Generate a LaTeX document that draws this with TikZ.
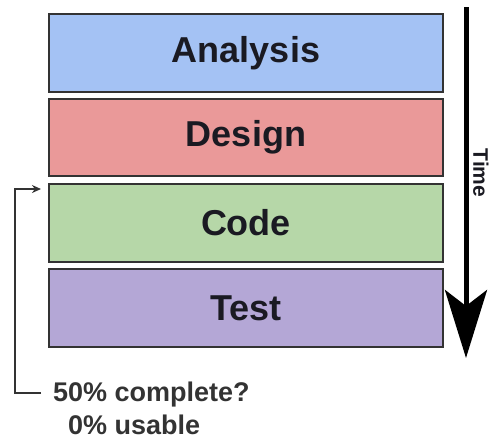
\documentclass[tikz,border=0pt]{standalone}
\usepackage{fontspec}
\setmainfont{Liberation Sans}
\usetikzlibrary{arrows.meta,calc}
\definecolor{cA}{HTML}{A4C2F4}
\definecolor{cD}{HTML}{EA9999}
\definecolor{cC}{HTML}{B6D7A8}
\definecolor{cT}{HTML}{B4A7D6}
\definecolor{bord}{HTML}{333333}
\definecolor{txt}{HTML}{1A1A22}
\tikzset{
  phase/.style={draw=bord, line width=2pt, minimum width=394pt, minimum height=78pt, inner sep=0pt,
    font=\fontsize{36}{40}\selectfont\bfseries, text=txt},
  note/.style={font=\fontsize{27}{30}\selectfont\bfseries, text=bord, inner sep=0pt, anchor=west},
}
\begin{document}
\begin{tikzpicture}[x=1pt,y=-1pt]
\useasboundingbox (0,0) rectangle (491,440);
\node[phase, fill=cA] (ana) at (246,53) {Analysis};
\node[phase, fill=cD, minimum height=77pt] (des) at (246,137.5) {Design};
\node[phase, fill=cC] (cod) at (246,223) {Code};
\node[phase, fill=cT] (tst) at (246,308) {Test};
\coordinate (ts) at (466,7);
\coordinate (te) at (466,358);
\draw[line width=5pt, -{Stealth[length=68pt,width=42pt,inset=16pt]}] (ts) -- (te);
\node[rotate=-90, font=\fontsize{21}{24}\selectfont\bfseries, text=txt, inner sep=0pt] (time) at (481,173) {Time};
\node[note] (n1) at (53,395) {50\% complete?};
\node[note] (n2) at (68,425) {0\% usable};
\coordinate (corner) at (15,393);
\coordinate (fbend) at (41,189);
\draw[line width=2pt, color=bord, -{Stealth[length=9pt,width=8pt]}] ($(n1.west |- corner)+(-12pt,0)$) -- (corner) |- (fbend);
\end{tikzpicture}
\end{document}
